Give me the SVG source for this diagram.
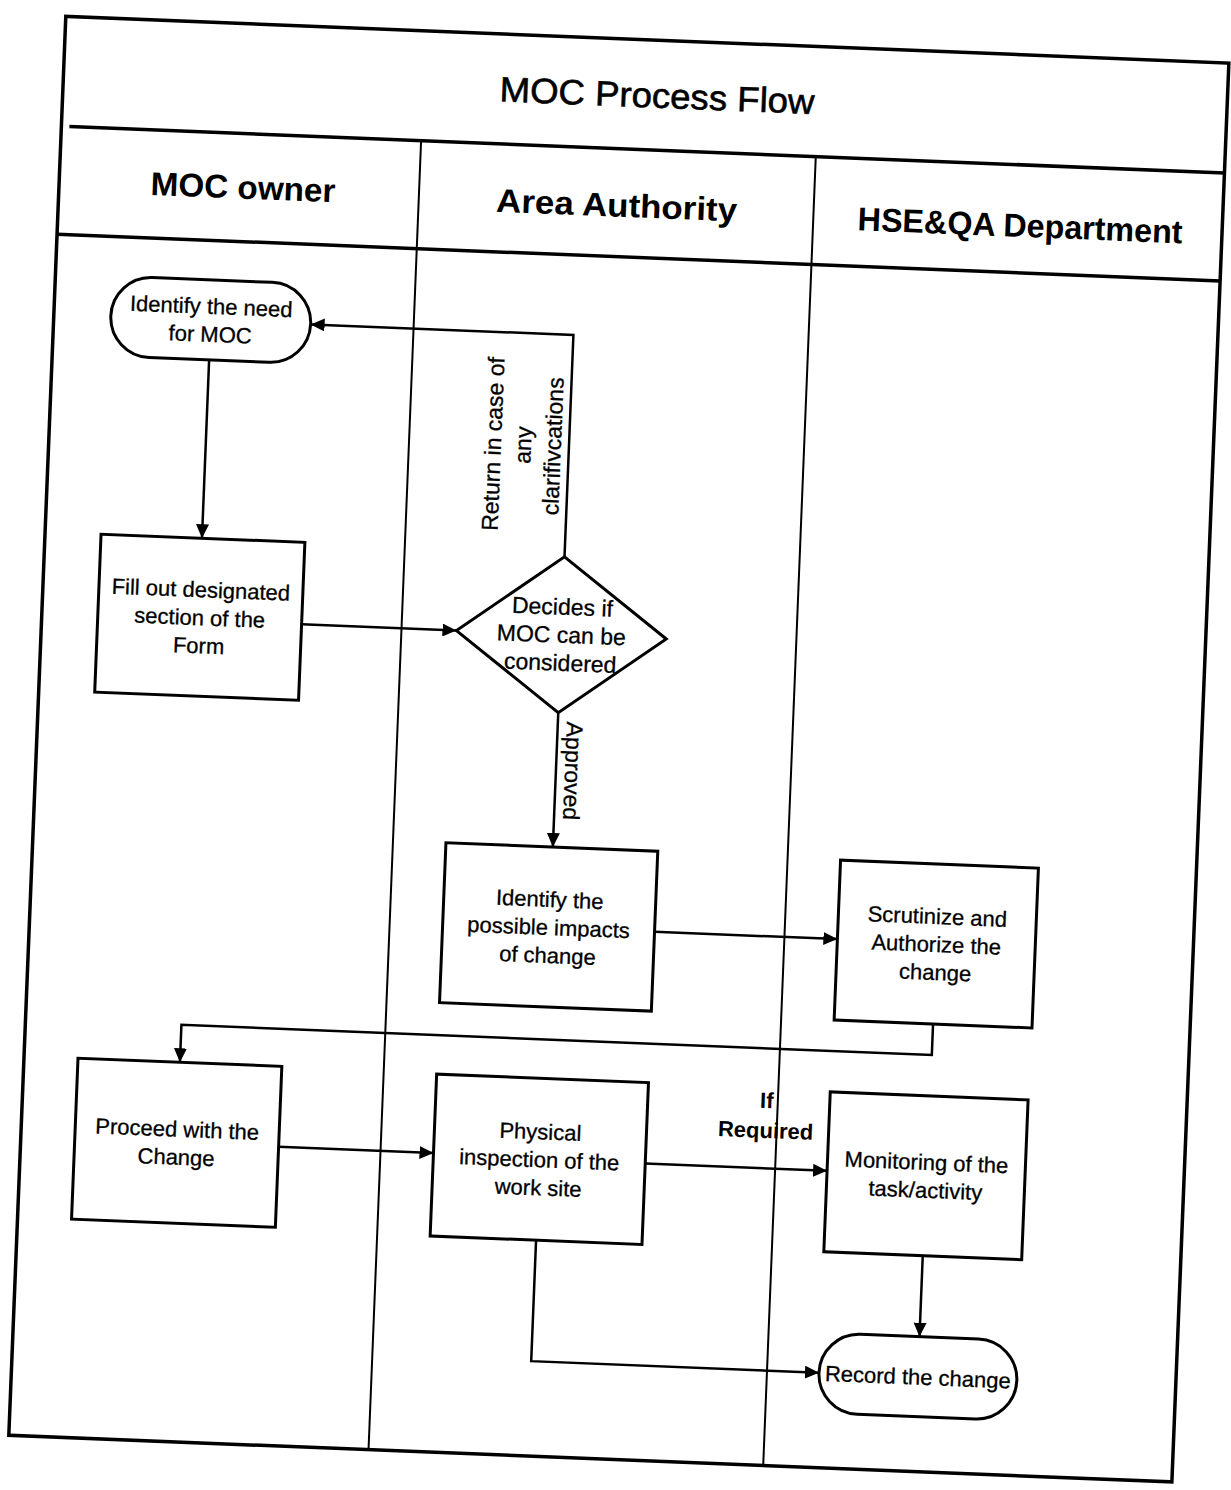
<svg xmlns="http://www.w3.org/2000/svg" width="1231" height="1490" viewBox="0 0 1231 1490">
<style>
.frame{fill:none;stroke:#000;stroke-width:3.5}
.lane{fill:none;stroke:#000;stroke-width:2}
.node{fill:#fff;stroke:#000;stroke-width:3}
.conn{fill:none;stroke:#000;stroke-width:2.5}
.t{font-family:"Liberation Sans",Arial,sans-serif;font-size:22px;text-anchor:middle;fill:#000;stroke:#000;stroke-width:0.3}
.dt{font-family:"Liberation Sans",Arial,sans-serif;font-size:23px;text-anchor:middle;fill:#000;stroke:#000;stroke-width:0.3}
.h{font-family:"Liberation Sans",Arial,sans-serif;font-size:33px;font-weight:bold;text-anchor:middle;fill:#000}
.title{font-family:"Liberation Sans",Arial,sans-serif;font-size:35px;text-anchor:middle;fill:#000;stroke:#000;stroke-width:0.6}
.lbl{font-family:"Liberation Sans",Arial,sans-serif;font-size:23px;text-anchor:middle;fill:#000;stroke:#000;stroke-width:0.3}
.lblb{font-family:"Liberation Sans",Arial,sans-serif;font-size:22px;font-weight:bold;text-anchor:middle;fill:#000}
</style>
<defs>
<marker id="arr" markerUnits="userSpaceOnUse" markerWidth="15" markerHeight="13" refX="14" refY="6.5" orient="auto">
<path d="M0,0 L14,6.5 L0,13 z" fill="#000"/>
</marker>
</defs>
<rect x="0" y="0" width="1231" height="1490" fill="#fff"/>
<g transform="rotate(2.3 615 745)">
<g id="frame">
<rect class="frame" x="37" y="39" width="1164" height="1420"/>
<line class="frame" x1="45" y1="149" x2="1201" y2="149"/>
<line class="frame" x1="37" y1="257" x2="1201" y2="257"/>
<line class="lane" x1="397" y1="149" x2="397" y2="1459"/>
<line class="lane" x1="792" y1="149" x2="792" y2="1459"/>
<text class="title" x="631" y="106.5" textLength="315" lengthAdjust="spacingAndGlyphs">MOC Process Flow</text>
<text class="h" x="221" y="214" textLength="185" lengthAdjust="spacingAndGlyphs">MOC owner</text>
<text class="h" x="595" y="217" textLength="241" lengthAdjust="spacingAndGlyphs">Area Authority</text>
<text class="h" x="999" y="221" textLength="325" lengthAdjust="spacingAndGlyphs">HSE&amp;QA Department</text>
</g>
<g id="connectors">
<path class="conn" d="M194,376.5 V555" marker-end="url(#arr)"/>
<path class="conn" d="M297,637 H452" marker-end="url(#arr)"/>
<path class="conn" d="M557,559 V337 H294" marker-end="url(#arr)"/>
<path class="conn" d="M557,715 V849.5" marker-end="url(#arr)"/>
<path class="conn" d="M662,930 H845" marker-end="url(#arr)"/>
<path class="conn" d="M944,1011 V1042 H193 V1079.5" marker-end="url(#arr)"/>
<path class="conn" d="M295,1160 H450" marker-end="url(#arr)"/>
<path class="conn" d="M662,1162 H844" marker-end="url(#arr)"/>
<path class="conn" d="M943,1243 V1324" marker-end="url(#arr)"/>
<path class="conn" d="M556,1243 V1364 H844" marker-end="url(#arr)"/>
<g transform="translate(511,449) rotate(-90)">
<text class="lbl" x="0" y="-22">Return in case of</text>
<text class="lbl" x="0" y="8">any</text>
<text class="lbl" x="0" y="38">clarifivcations</text>
</g>
<text class="lbl" transform="translate(574,772.7) rotate(90)" x="0" y="8">Approved</text>
<text class="lblb" x="781" y="1101.6">If</text>
<text class="lblb" x="781" y="1131.6">Required</text>
</g>
<g id="n1">
<rect class="node" x="94" y="296.5" width="200" height="80" rx="40" ry="40"/>
<text class="t" x="194" y="330.5">Identify the need</text>
<text class="t" x="194" y="358.5">for MOC</text>
</g>
<g id="n2">
<rect class="node" x="93" y="555" width="204" height="158"/>
<text class="t" x="195" y="614">Fill out designated</text>
<text class="t" x="195" y="642">section of the</text>
<text class="t" x="195" y="670">Form</text>
</g>
<g id="n3">
<polygon class="node" points="557,559 662,637 557,715 452,637"/>
<text class="dt" x="557" y="617">Decides if</text>
<text class="dt" x="557" y="645">MOC can be</text>
<text class="dt" x="557" y="673">considered</text>
</g>
<g id="n4">
<rect class="node" x="450" y="849.5" width="212" height="160"/>
<text class="t" x="556" y="909.5">Identify the</text>
<text class="t" x="556" y="937.5">possible impacts</text>
<text class="t" x="556" y="965.5">of change</text>
</g>
<g id="n5">
<rect class="node" x="845" y="851" width="198" height="160"/>
<text class="t" x="944" y="911">Scrutinize and</text>
<text class="t" x="944" y="939">Authorize the</text>
<text class="t" x="944" y="967">change</text>
</g>
<g id="n6">
<rect class="node" x="91" y="1079.5" width="204" height="161"/>
<text class="t" x="193" y="1154">Proceed with the</text>
<text class="t" x="193" y="1182">Change</text>
</g>
<g id="n7">
<rect class="node" x="450" y="1081" width="212" height="162"/>
<text class="t" x="556" y="1142">Physical</text>
<text class="t" x="556" y="1170">inspection of the</text>
<text class="t" x="556" y="1198">work site</text>
</g>
<g id="n8">
<rect class="node" x="844" y="1083" width="198" height="160"/>
<text class="t" x="943" y="1157">Monitoring of the</text>
<text class="t" x="943" y="1185">task/activity</text>
</g>
<g id="n9">
<rect class="node" x="844" y="1324" width="198" height="80" rx="40" ry="40"/>
<text class="t" x="943" y="1372">Record the change</text>
</g>
</g>
</svg>
